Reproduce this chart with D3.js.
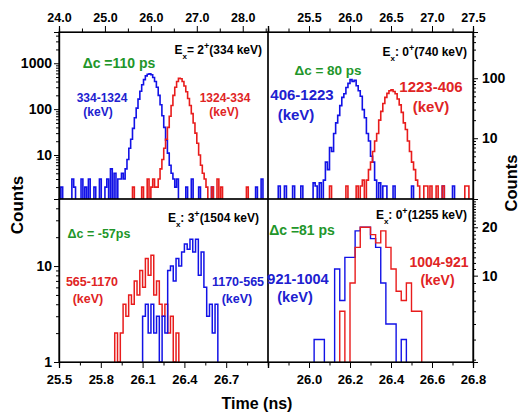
<!DOCTYPE html>
<html>
<head>
<meta charset="utf-8">
<script src="https://cdn.jsdelivr.net/npm/d3@7"></script>
<style>
body { margin: 0; background: #fff; }
text { font-family: "Liberation Sans", Arial, sans-serif; font-weight: bold; }
</style>
</head>
<body>
<script>
// ---- data (bin counts) ----

// top-left: Ex = 2+ (334 keV), bins of 0.04 ns
var tlBinW = 0.04;
var tlBlueStart = 25.28;
var tlBlue = [3, 3, 4, 3, 5, 8, 14, 22, 38, 65, 105, 165, 245, 340, 440, 530, 575, 590, 560, 490, 400, 300, 200, 125, 72, 40, 21, 11, 6, 4, 3, 2, 3];
var tlBlueNoise = [[24.06, 2], [24.28, 3], [24.35, 2], [24.49, 3], [24.57, 2], [24.67, 3], [24.78, 2], [24.89, 3], [25.00, 2], [25.07, 3], [25.15, 5], [25.22, 4], [26.59, 2], [26.78, 2], [26.88, 3], [27.07, 2], [27.35, 2], [28.30, 2], [28.41, 3]];
var tlRedStart = 26.08;
var tlRed = [2, 2, 3, 5, 8, 14, 22, 40, 70, 120, 200, 300, 400, 470, 460, 400, 320, 240, 170, 120, 80, 50, 30, 18, 10, 6, 4, 3, 2];
var tlRedNoise = [[25.62, 2], [25.83, 2], [25.94, 3], [26.01, 2], [26.05, 3], [27.35, 2], [27.46, 3], [27.54, 2], [28.08, 2]];

// top-right: Ex = 0+ (740 keV), bins of 0.025 ns
var trBinW = 0.025;
var trBlueStart = 25.675;
var trBlue = [2, 4, 3, 7, 6, 12, 18, 24, 35, 48, 55, 70, 82, 95, 88, 92, 75, 62, 50, 30, 22, 12, 9, 5, 4, 2];
var trBlueNoise = [[25.13, 1.6], [25.21, 1.6], [25.31, 1.6], [25.41, 1.6], [25.57, 1.8], [25.59, 1.6], [25.63, 1.8], [26.32, 1.6], [26.36, 1.8], [26.40, 1.6], [26.44, 1.6], [26.54, 1.6], [26.76, 1.6], [27.13, 1.6], [27.27, 1.6]];
var trRedStart = 26.2;
var trRed = [2, 3, 4, 6, 9, 12, 20, 28, 38, 48, 56, 62, 64, 60, 55, 45, 36, 27, 18, 14, 9, 6, 4, 3, 2];
var trRedNoise = [[25.76, 1.6], [25.96, 1.6], [26.08, 1.6], [26.14, 1.6], [26.16, 2], [26.84, 1.6], [26.90, 1.6], [26.94, 1.6], [26.98, 1.6], [27.05, 1.6], [27.13, 1.6], [27.41, 1.6], [27.43, 1.6]];

// bottom-left: Ex = 3+ (1504 keV), bins of 0.02 ns
var blBinW = 0.02;
var blRedStart = 25.90;
var blRed = [2, 1, 2, 4, 3, 5, 4, 7, 5, 9, 6, 12, 8, 13, 5, 7, 4, 3, 4, 2, 3, 1, 2];
var blBlueStart = 26.10;
var blBlue = [3, 4, 2, 4, 2, 3, 1, 3, 2, 9, 10, 7, 12, 10, 14, 17, 15, 19, 14, 19, 8, 14, 6, 3, 4, 2, 4];

// bottom-right: Ex = 0+ (1255 keV), bins of 0.025 ns
var brBinW = 0.025;
var brBlueStart = 26.025;
var brBlue = [4, 4, 0, 0, 11, 7, 13, 13, 19, 20, 20, 17, 15, 9, 5, 5, 0, 4];
var brRedStart = 26.15;
var brRed = [6, 0, 9, 15, 20, 20, 18, 16, 19, 15, 11, 8, 7, 9, 6, 6];

// tick labels
var tlTopTicks = [24, 25, 26, 27, 28];
var trTopTicks = [25.5, 26, 26.5, 27, 27.5];
var blBottomTicks = [25.5, 25.8, 26.1, 26.4, 26.7];
var brBottomTicks = [26.0, 26.2, 26.4, 26.6, 26.8];

var blue = "#1212e6", red = "#e81c1c", green = "#22962a";
var blueText = "#2020d0", redText = "#e02424";

// ---- layout ----
var W = 521, H = 413;
var L = 59, M = 268, R = 473, T = 32, Mid = 199, B = 362;

var svg = d3.select("body").append("svg").attr("width", W).attr("height", H);

// builds the bins of one series from its counts and isolated noise bins
function buildBins(xDomain, binW, start, counts, noise) {
    var n = Math.round((xDomain[1] - xDomain[0]) / binW);
    var bins = new Array(n).fill(0);
    var i0 = Math.round((start - xDomain[0]) / binW);
    counts.forEach(function(c, j) { bins[i0 + j] = c; });
    (noise || []).forEach(function(d) {
        var i = Math.floor((d[0] - xDomain[0]) / binW + 1e-6);
        if (i >= 0 && i < n) bins[i] = Math.max(bins[i], d[1]);
    });
    return bins.map(function(v, i) { return {x0: xDomain[0] + i * binW, v: v}; });
}

// step outline of a histogram: one run for each group of non-empty bins
function stepPoints(bins, binW, floor) {
    var pts = [];
    var open = false;
    bins.forEach(function(b) {
        if (b.v > 0) {
            if (!open) { pts.push([b.x0, floor]); open = true; }
            pts.push([b.x0, b.v]);
            pts.push([b.x0 + binW, b.v]);
        } else if (open) {
            pts.push([b.x0, floor]);
            pts.push(null);
            open = false;
        }
    });
    if (open) pts.push([bins[bins.length - 1].x0 + binW, floor]);
    return pts;
}

function drawPanel(p) {
    var x = d3.scaleLinear().domain(p.xDomain).range([p.x0, p.x1]);
    var y = d3.scaleLog().domain(p.yDomain).range([p.y1, p.y0]).clamp(true);
    var floor = p.yDomain[0];

    var clipId = "clip" + p.id;
    svg.append("clipPath").attr("id", clipId).append("rect")
        .attr("x", p.x0).attr("y", p.y0).attr("width", p.x1 - p.x0).attr("height", p.y1 - p.y0);

    var line = d3.line()
        .defined(function(d) { return d !== null; })
        .x(function(d) { return x(d[0]); })
        .y(function(d) { return y(d[1]); });

    var g = svg.append("g").attr("clip-path", "url(#" + clipId + ")");
    p.series.forEach(function(s) {
        var bins = buildBins(p.xDomain, s.binW, s.start, s.counts, s.noise);
        g.append("path")
            .datum(stepPoints(bins, s.binW, floor))
            .attr("d", line)
            .attr("fill", "none")
            .attr("stroke", s.color)
            .attr("stroke-width", p.lw);
    });

    // frame
    svg.append("rect")
        .attr("x", p.x0).attr("y", p.y0).attr("width", p.x1 - p.x0).attr("height", p.y1 - p.y0)
        .attr("fill", "none").attr("stroke", "#000").attr("stroke-width", 1.2);

    // x axis (major + minor)
    var xAxisF = p.xSide === "top" ? d3.axisTop : d3.axisBottom;
    var xPos = p.xSide === "top" ? p.y0 : p.y1;
    var gx = svg.append("g").attr("transform", "translate(0," + xPos + ")")
        .call(xAxisF(x).tickValues(p.xTicks).tickSize(6).tickPadding(p.xSide === "top" ? 4 : 7)
            .tickFormat(d3.format(".1f")));
    gx.selectAll("text").style("font-size", p.xFont + "px").attr("fill", "#000");
    svg.append("g").attr("transform", "translate(0," + xPos + ")")
        .call(xAxisF(x).tickValues(p.xMinor).tickSize(3.5).tickFormat(""));

    // y axis (major + minor)
    var yAxisF = p.ySide === "left" ? d3.axisLeft : d3.axisRight;
    var yPos = p.ySide === "left" ? p.x0 : p.x1;
    var gy = svg.append("g").attr("transform", "translate(" + yPos + ",0)")
        .call(yAxisF(y).tickValues(p.yTicks).tickSize(5).tickPadding(p.ySide === "left" ? 2 : 4)
            .tickFormat(d3.format("d")));
    gy.selectAll("text").style("font-size", "14px").attr("fill", "#000");
    svg.append("g").attr("transform", "translate(" + yPos + ",0)")
        .call(yAxisF(y).tickValues(p.yMinor).tickSize(3).tickFormat(""));

    svg.selectAll(".domain").attr("stroke-width", 1.2);
    svg.selectAll(".tick line").attr("stroke-width", 1);
}

// minor ticks for a log axis: 2..9 times each power of ten
function logMinor(domain) {
    var out = [];
    for (var e = -1; e <= 4; e++) {
        for (var k = 2; k <= 9; k++) {
            var v = k * Math.pow(10, e);
            if (v > domain[0] && v < domain[1]) out.push(v);
        }
    }
    return out;
}

var panels = [
    {id: "tl", x0: L, x1: M, y0: T, y1: Mid, xDomain: [24, 28.55], yDomain: [1.1, 4800], lw: 1.6,
     xSide: "top", xTicks: tlTopTicks, xMinor: d3.range(24.5, 28.55, 1), xFont: 12.5,
     ySide: "left", yTicks: [10, 100, 1000], yMinor: logMinor([1.1, 4800]),
     series: [
        {binW: tlBinW, start: tlBlueStart, counts: tlBlue, noise: tlBlueNoise, color: blue},
        {binW: tlBinW, start: tlRedStart, counts: tlRed, noise: tlRedNoise, color: red}]},
    {id: "tr", x0: M, x1: R, y0: T, y1: Mid, xDomain: [25.0, 27.5], yDomain: [0.97, 590], lw: 1.6,
     xSide: "top", xTicks: trTopTicks, xMinor: d3.range(25.25, 27.5, 0.5), xFont: 12.5,
     ySide: "right", yTicks: [10, 100], yMinor: logMinor([0.97, 590]),
     series: [
        {binW: trBinW, start: trBlueStart, counts: trBlue, noise: trBlueNoise, color: blue},
        {binW: trBinW, start: trRedStart, counts: trRed, noise: trRedNoise, color: red}]},
    {id: "bl", x0: L, x1: M, y0: Mid, y1: B, xDomain: [25.5, 27.0], yDomain: [1, 50], lw: 1.5,
     xSide: "bottom", xTicks: blBottomTicks, xMinor: [25.65, 25.95, 26.25, 26.55, 26.85], xFont: 13,
     ySide: "left", yTicks: [1, 10], yMinor: logMinor([1, 50]),
     series: [
        {binW: blBinW, start: blRedStart, counts: blRed, color: red},
        {binW: blBinW, start: blBlueStart, counts: blBlue, color: blue}]},
    {id: "br", x0: M, x1: R, y0: Mid, y1: B, xDomain: [25.8, 26.8], yDomain: [2.9, 30], lw: 1.4,
     xSide: "bottom", xTicks: brBottomTicks, xMinor: [25.9, 26.1, 26.3, 26.5, 26.7], xFont: 13,
     ySide: "right", yTicks: [10, 20], yMinor: d3.range(3, 31).filter(function(v) { return v !== 10 && v !== 20; }),
     series: [
        {binW: brBinW, start: brBlueStart, counts: brBlue, color: blue},
        {binW: brBinW, start: brRedStart, counts: brRed, color: red}]}
];

panels.forEach(drawPanel);

// ---- annotations ----
function label(x, y, txt, size, color, anchor) {
    return svg.append("text").attr("x", x).attr("y", y)
        .attr("text-anchor", anchor || "middle")
        .style("font-size", size + "px").attr("fill", color || "#000").text(txt);
}

// level labels "Ex: J+ (E keV)"
function levelLabel(x, y, sep, spin, energy) {
    var t = svg.append("text").attr("x", x).attr("y", y).attr("text-anchor", "end")
        .style("font-size", "12px").attr("fill", "#000");
    t.append("tspan").text("E");
    t.append("tspan").attr("baseline-shift", "sub").style("font-size", "8px").text("x");
    t.append("tspan").text(sep + spin);
    t.append("tspan").attr("baseline-shift", "super").style("font-size", "9px").text("+");
    t.append("tspan").text("(" + energy + " keV)");
}

levelLabel(262, 54, "= ", "2", "334");
levelLabel(467, 56, ": ", "0", "740");
levelLabel(259, 222, ": ", "3", "1504");
levelLabel(467, 219, ": ", "0", "1255");

label(119, 68, "\u0394c =110 ps", 14, green);
label(328, 74.5, "\u0394c = 80 ps", 13.5, green);
label(99, 238, "\u0394c = -57ps", 12.5, green);
label(302, 235, "\u0394c =81 ps", 14, green);

label(102, 102, "334-1324", 12, blueText);
label(98, 116, "(keV)", 12, blueText);
label(225, 102, "1324-334", 12, redText);
label(224, 116, "(keV)", 12, redText);

label(302, 100, "406-1223", 15, blueText);
label(296, 120, "(keV)", 15, blueText);
label(431, 92, "1223-406", 15, redText);
label(431, 112, "(keV)", 15, redText);

label(92, 286, "565-1170", 12.5, redText);
label(88, 302.5, "(keV)", 12.5, redText);
label(238, 286, "1170-565", 12.5, blueText);
label(237, 302.5, "(keV)", 12.5, blueText);

label(298, 283.5, "921-1004", 14.5, blueText);
label(295, 302, "(keV)", 14.5, blueText);
label(439, 266.5, "1004-921", 14, redText);
label(437.5, 285, "(keV)", 14, redText);

// axis titles
label(257, 409, "Time (ns)", 16);
label(0, 0, "Counts", 17).attr("transform", "translate(23,205) rotate(-90)");
label(0, 0, "Counts", 16.5).attr("transform", "translate(517,183) rotate(-90)");
</script>
</body>
</html>
